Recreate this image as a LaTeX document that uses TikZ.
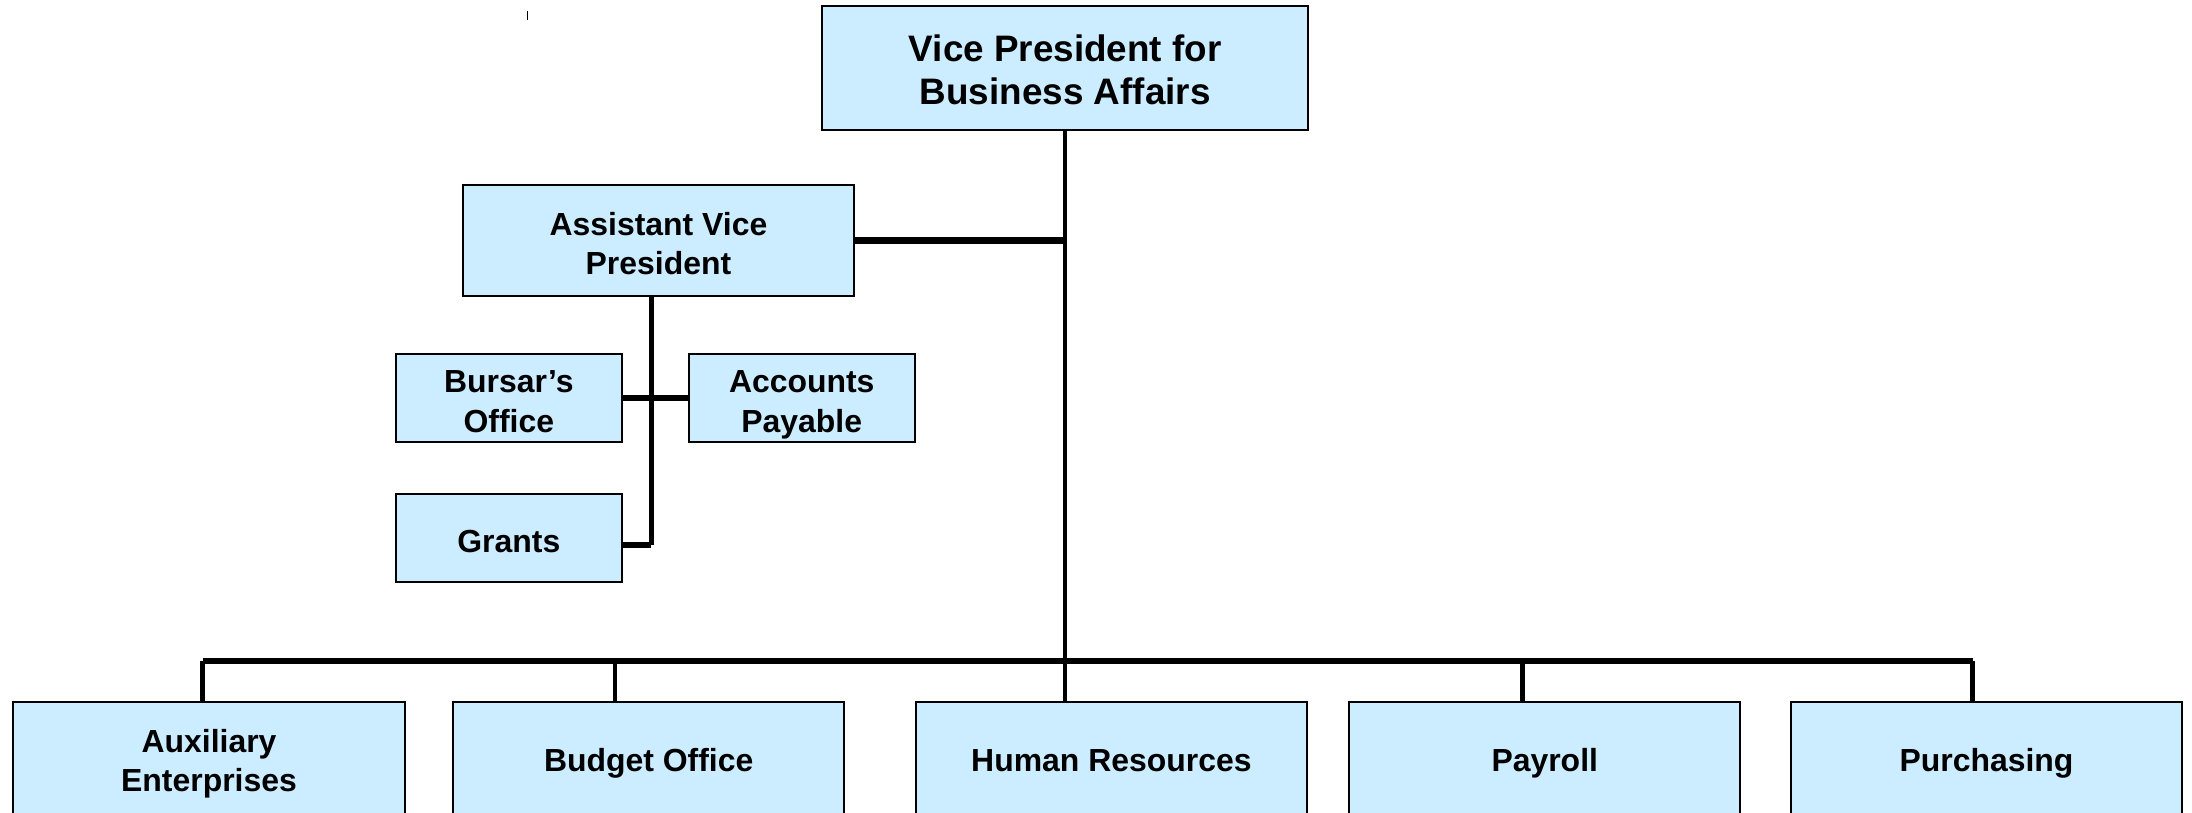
\documentclass[tikz,border=0pt]{standalone}
\usepackage{fontspec}
\setmainfont{Liberation Sans}
\definecolor{boxblue}{HTML}{CCECFF}
\begin{document}
\begin{tikzpicture}[x=0.02cm,y=-0.02cm]
     \tikzstyle{unit}=[draw,fill=boxblue,line width=0.8pt,inner sep=0pt,align=center,font=\bfseries\fontsize{13}{16}\selectfont,text height=14.8pt,text depth=2.8pt]
     \tikzstyle{two lines}=[text height=30.8pt]
     \tikzstyle{office}=[unit,minimum width=3.24cm,minimum height=1.26cm]
     \tikzstyle{dept}=[unit,minimum width=5.6cm,minimum height=1.66cm,text height=12.6pt]
     \tikzstyle{vline}=[line width=1.8pt]
     \tikzstyle{hline}=[line width=2.6pt]
     \clip (0,0) rectangle (1568,581);
     \draw[line width=0.4pt] (377,8) -- (377,14);
     \node[unit,minimum width=6.96cm,minimum height=1.78cm,font=\bfseries\fontsize{15}{17.5}\selectfont,text height=31.5pt,text depth=1.6pt] (vp) at (762,48.5) {Vice President for\\Business Affairs};
     \node[unit,two lines,minimum width=5.6cm,minimum height=1.6cm] (avp) at (471,172) {Assistant Vice\\President};
     \node[office,two lines] (bursar) at (364,284.5) {Bursar’s\\Office};
     \node[office,two lines] (payable) at (573.5,284.5) {Accounts\\Payable};
     \node[office] (grants) at (364,385) {Grants};
     \node[dept,text height=28.6pt] (aux) at (149.5,543.5) {Auxiliary\\Enterprises};
     \node[dept] (budget) at (464,543.5) {Budget Office};
     \node[dept] (hr) at (795,543.5) {Human Resources};
     \node[dept] (payroll) at (1105,543.5) {Payroll};
     \node[dept] (purch) at (1421,543.5) {Purchasing};
     \coordinate (avpdown) at (466,390);
     \coordinate (b1) at (145,473);
     \coordinate (b2) at (440,473);
     \coordinate (b3) at (762,473);
     \coordinate (b4) at (1089,473);
     \coordinate (b5) at (1411,473);
     % vice president branch
     \draw[vline] (vp.south) -- (b3);
     \draw[hline] (avp.east) -- (avp.east -| vp.south);
     % assistant vice president branch
     \draw[vline] (avpdown |- avp.south) -- (avpdown);
     \draw[hline] (bursar.east) -- (payable.west);
     \draw[hline] (avpdown) -- (avpdown -| grants.east);
     % departments
     \draw[hline] (b1) -- (b5);
     \draw[vline] (b1) -- (b1 |- aux.north);
     \draw[vline] (b2) -- (b2 |- budget.north);
     \draw[vline] (b3) -- (b3 |- hr.north);
     \draw[vline] (b4) -- (b4 |- payroll.north);
     \draw[vline] (b5) -- (b5 |- purch.north);
\end{tikzpicture}
\end{document}
